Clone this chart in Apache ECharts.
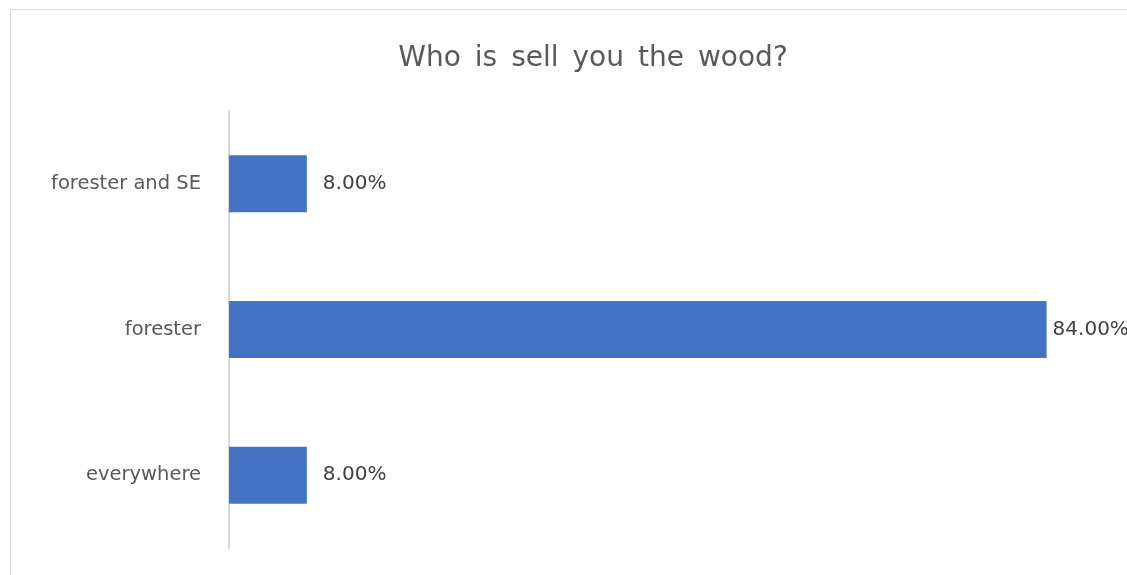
<!DOCTYPE html>
<html>
<head>
<meta charset="utf-8">
<script src="https://cdn.jsdelivr.net/npm/echarts@6/dist/echarts.min.js"></script>
<style>
html,body{margin:0;padding:0;background:#fff;overflow:hidden;}
#frame{position:absolute;left:10px;top:9px;width:1160px;height:620px;border:1px solid #d9d9d9;box-sizing:border-box;}
#chart{position:absolute;left:0;top:0;width:1127px;height:575px;}
</style>
</head>
<body>
<div id="frame"></div>
<div id="chart"></div>
<script>
var titleText = 'Who\u2002is\u2002sell\u2002you\u2002the\u2002wood?';
var categories = ['everywhere', 'forester', 'forester and SE'];
var values = [8, 84, 8];

var seriesData = values.map(function (v) {
  return v > 50 ? {value: v, label: {distance: 6}} : {value: v};
});

var chart = echarts.init(document.getElementById('chart'));
chart.setOption({
  animation: false,
  title: {
    text: titleText,
    left: 588,
    textAlign: 'center',
    top: 40,
    textStyle: {fontFamily: 'DejaVu Sans', fontSize: 28, fontWeight: 'normal', color: '#595959'}
  },
  grid: {left: 229, top: 111, width: 876, height: 437, containLabel: false},
  xAxis: {
    type: 'value', min: 0, max: 90, show: false
  },
  yAxis: {
    type: 'category',
    data: categories,
    axisLine: {show: true, lineStyle: {color: '#d9d9d9', width: 2}},
    axisTick: {show: false},
    axisLabel: {fontFamily: 'DejaVu Sans', fontSize: 19.5, color: '#595959', margin: 28}
  },
  series: [{
    type: 'bar',
    data: seriesData,
    barWidth: 57,
    itemStyle: {color: '#4472c4'},
    label: {
      show: true,
      position: 'right',
      distance: 16,
      formatter: function (p) { return p.value.toFixed(2) + '%'; },
      fontFamily: 'DejaVu Sans', fontSize: 20, color: '#404040'
    }
  }]
});
</script>
</body>
</html>
